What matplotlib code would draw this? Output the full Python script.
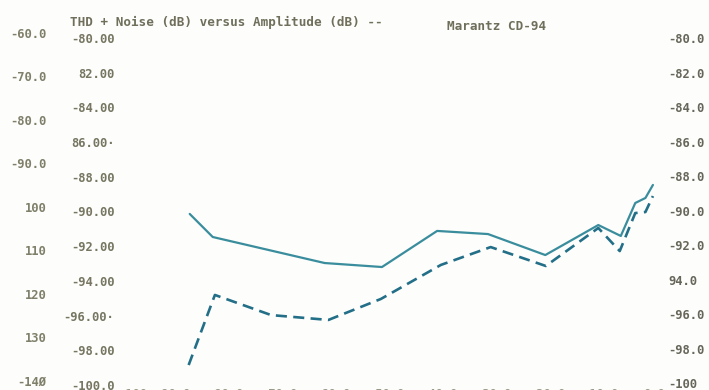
import matplotlib
matplotlib.use("Agg")
import matplotlib.pyplot as plt

# Channel A: amplitude (dB) and THD + noise (dB)
amp_a = [-86.7, -82.4, -61.5, -50.8, -40.5, -31.0, -20.3, -10.4, -6.2, -3.5, -1.6, -0.2]
thd_a = [-90.14, -91.47, -92.97, -93.20, -91.12, -91.30, -92.51, -90.78, -91.41, -89.51, -89.22, -88.47]
# Channel B: amplitude (dB) and THD + noise (dB)
amp_b = [-86.9, -82.0, -71.5, -60.8, -51.0, -39.8, -30.5, -20.2, -10.4, -6.4, -3.5, -1.6, -0.2]
thd_b = [-98.85, -94.81, -95.97, -96.25, -95.04, -93.08, -92.05, -93.14, -90.95, -92.28, -90.09, -90.03, -89.11]

left_ticks = [-80, -82, -84, -86, -88, -90, -92, -94, -96, -98, -100]
left_labels = ["-80.00", "82.00", "-84.00", "86.00·", "-88.00", "-90.00",
               "-92.00", "-94.00", "-96.00·", "-98.00", "-100.0"]
right_labels = ["-80.0", "-82.0", "-84.0", "-86.0", "-88.0", "-90.0",
                "-92.0", "94.0", "-96.0", "-98.0", "-100"]
outer_ticks = [-60, -70, -80, -90, -100, -110, -120, -130, -140]
outer_labels = ["-60.0", "-70.0", "-80.0", "-90.0", "100", "110", "120", "130", "-14Ø"]
x_ticks = [-100, -90, -80, -70, -60, -50, -40, -30, -20, -10, 0]
x_labels = ["-100", "-90.0", "-80.0", "-70.0", "-60.0", "-50.0",
            "-40.0", "-30.0", "-20.0", "-10.0", "0.0"]

W, H = 709, 390
fig = plt.figure(figsize=(W / 100, H / 100), dpi=100)
fig.patch.set_facecolor("#fdfdfb")

FONT = dict(family="DejaVu Sans Mono", weight="bold", size=8.7)
TXT = "#767662"


def frac_box(x0, y_top, x1, y_bot):
    return [x0 / W, 1 - y_bot / H, (x1 - x0) / W, (y_bot - y_top) / H]


ax = fig.add_axes(frac_box(118.5, 38, 654, 385))
ax.set_facecolor("none")
ax.set_xlim(-100, 0)
ax.set_ylim(-100, -80)
for s in ax.spines.values():
    s.set_visible(False)
ax.tick_params(length=0, colors=TXT)
ax.set_yticks(left_ticks)
ax.set_yticklabels(left_labels, fontdict=FONT, color=TXT)
ax.tick_params(axis="y", pad=3)
ax.set_xticks(x_ticks)
ax.set_xticklabels(x_labels, fontdict=FONT, color="#9a9a88")
ax.tick_params(axis="x", pad=2)
# first amplitude label sits just right of its tick so it clears the scale beside it
ax.get_xticklabels()[0].set_horizontalalignment("left")

ax.plot(amp_a, thd_a, color="#3a8d9d", lw=1.6, solid_capstyle="round",
        clip_on=False)
ax.plot(amp_b, thd_b, color="#236f88", lw=1.9, dashes=(4.2, 2.4), clip_on=False)

# Right-hand scale
axr = ax.twinx()
axr.set_ylim(-100.1, -80.1)
for s in axr.spines.values():
    s.set_visible(False)
axr.set_yticks(left_ticks)
axr.set_yticklabels(right_labels, fontdict=FONT, color="#66665a")
axr.tick_params(length=0, pad=10)

# Outer left scale
axo = fig.add_axes(frac_box(49, 33, 50, 381))
axo.set_facecolor("none")
axo.set_ylim(-140, -60)
axo.set_xticks([])
for s in axo.spines.values():
    s.set_visible(False)
axo.set_yticks(outer_ticks)
axo.set_yticklabels(outer_labels, fontdict=FONT, color="#7f7f6a")
axo.tick_params(length=0, pad=2)

TITLE = dict(FONT, size=9.1)
fig.text(70 / W, 1 - 22 / H, "THD + Noise (dB) versus Amplitude (dB) --",
         fontdict=TITLE, color="#6f6f5c", va="center", ha="left")
fig.text(447 / W, 1 - 27 / H, "Marantz CD-94",
         fontdict=TITLE, color="#6f6f5c", va="center", ha="left")

fig.savefig("out.png", dpi=100, facecolor=fig.get_facecolor())
